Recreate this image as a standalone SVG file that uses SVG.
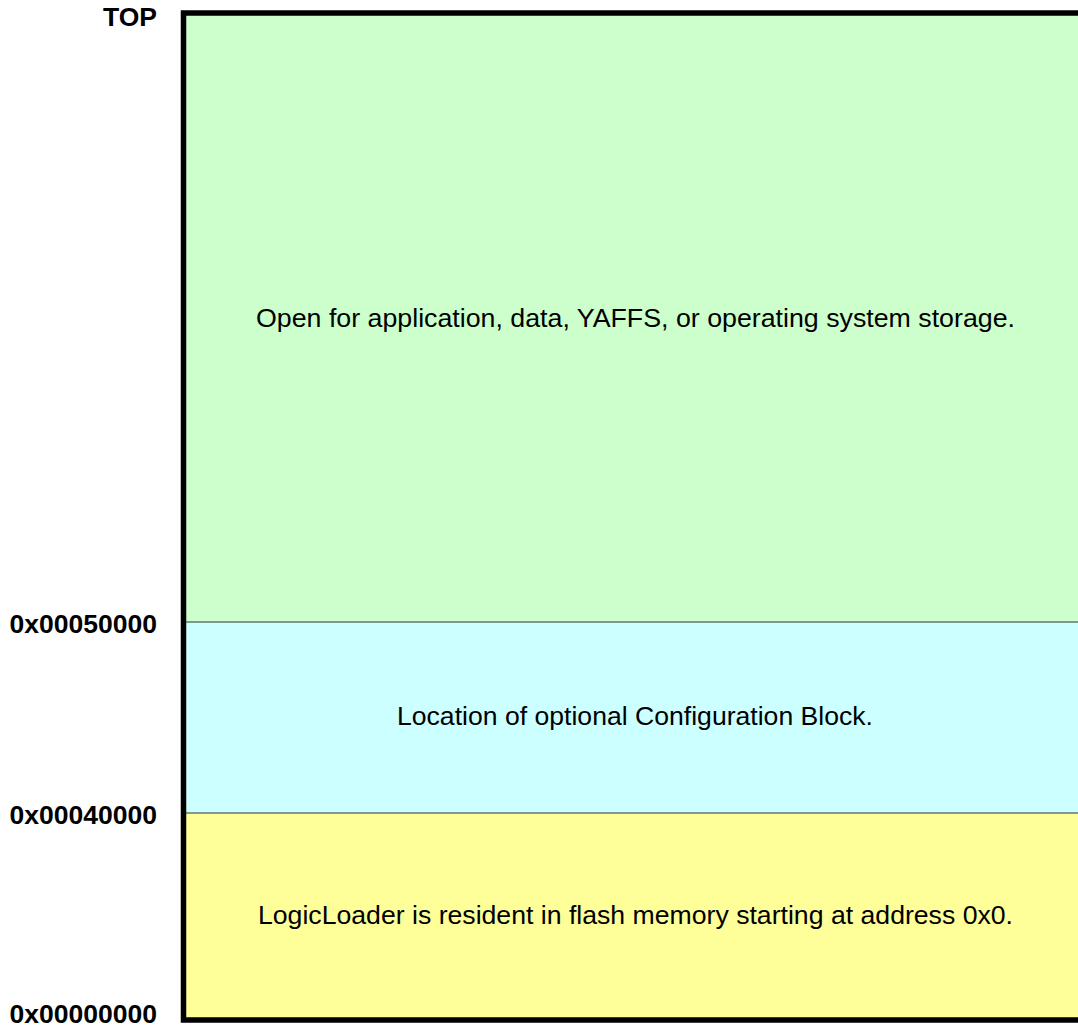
<svg xmlns="http://www.w3.org/2000/svg" width="1078" height="1031" viewBox="0 0 1078 1031">
<style>
.lbl{font-family:"Liberation Sans",Arial,sans-serif;font-weight:bold;font-size:26.5px;fill:#000;text-anchor:end}
.txt{font-family:"Liberation Sans",Arial,sans-serif;font-size:26.7px;fill:#000;text-anchor:middle}
.div{stroke:#333;stroke-width:1.2}
.frame{stroke:#000;stroke-width:5.5;fill:none}
</style>
<rect width="1078" height="1031" fill="#fff"/>
<g id="region-top">
<rect x="184" y="13" width="894" height="609" fill="#CCFFCC"/>
<text class="txt" x="635.5" y="326.5" textLength="759" lengthAdjust="spacingAndGlyphs">Open for application, data, YAFFS, or operating system storage.</text>
</g>
<g id="region-config">
<rect x="184" y="622" width="894" height="191" fill="#CCFFFF"/>
<text class="txt" x="635" y="725" textLength="476" lengthAdjust="spacingAndGlyphs">Location of optional Configuration Block.</text>
</g>
<g id="region-loader">
<rect x="184" y="813" width="894" height="207" fill="#FFFF99"/>
<text class="txt" x="635.5" y="923.5" textLength="755" lengthAdjust="spacingAndGlyphs">LogicLoader is resident in flash memory starting at address 0x0.</text>
</g>
<g id="dividers">
<line class="div" x1="184" y1="622" x2="1078" y2="622"/>
<line class="div" x1="184" y1="813" x2="1078" y2="813"/>
</g>
<g id="frame">
<path class="frame" d="M1078,13 H183.5 V1020 H1078"/>
</g>
<g id="labels">
<text class="lbl" x="157" y="26">TOP</text>
<text class="lbl" x="157" y="633">0x00050000</text>
<text class="lbl" x="157" y="824">0x00040000</text>
<text class="lbl" x="157" y="1023">0x00000000</text>
</g>
</svg>
